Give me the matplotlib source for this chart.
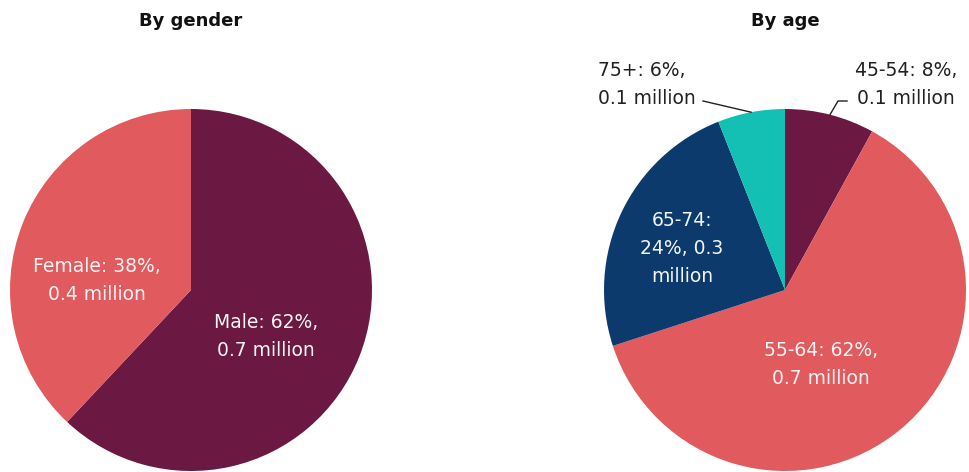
import numpy as np
import matplotlib.pyplot as plt

plt.rcParams['font.family'] = ['DejaVu Sans']

# gender split
gender_labels = ['Male', 'Female']
gender_pct = [62, 38]
gender_mil = [0.7, 0.4]
gender_colors = ['#6b1942', '#e05a5e']

# age split
age_labels = ['45-54', '55-64', '65-74', '75+']
age_pct = [8, 62, 24, 6]
age_mil = [0.1, 0.7, 0.3, 0.1]
age_colors = ['#6b1942', '#e05a5e', '#0c3a6d', '#13c0b3']

W, H = 969, 472
fig = plt.figure(figsize=(W / 100, H / 100), dpi=100)
fig.patch.set_facecolor('white')

R = 181
def pie_axes(cx, cy):
    return fig.add_axes([(cx - R) / W, (H - cy - R) / H, 2 * R / W, 2 * R / H])

def to_data(cx, cy, px, py):
    return (px - cx) / R, (cy - py) / R

inner = dict(color='#f4f4f4', fontsize=13.5, ha='center', va='center', linespacing=1.6)
outer = dict(color='#222222', fontsize=13.5, va='center', linespacing=1.6)

# left pie
cx1, cy1 = 191, 290
ax1 = pie_axes(cx1, cy1)
ax1.pie(gender_pct, colors=gender_colors, startangle=90, counterclock=False,
        radius=1, wedgeprops=dict(linewidth=0))
ax1.set_xlim(-1, 1); ax1.set_ylim(-1, 1); ax1.set_aspect('equal'); ax1.axis('off')
pos1 = [(266, 336), (97, 281)]
for lab, p, m, (px, py) in zip(gender_labels, gender_pct, gender_mil, pos1):
    x, y = to_data(cx1, cy1, px, py)
    ax1.text(x, y, f'{lab}: {p}%,\n{m} million', **inner)
fig.text(cx1 / W, 1 - 21 / H, 'By gender', ha='center', va='center',
         fontsize=13, fontweight='bold', color='#111111')

# right pie
cx2, cy2 = 785, 290
ax2 = pie_axes(cx2, cy2)
ax2.pie(age_pct, colors=age_colors, startangle=90, counterclock=False,
        radius=1, wedgeprops=dict(linewidth=0))
ax2.set_xlim(-1, 1); ax2.set_ylim(-1, 1); ax2.set_aspect('equal'); ax2.axis('off')
fig.text(cx2 / W, 1 - 21 / H, 'By age', ha='center', va='center',
         fontsize=13, fontweight='bold', color='#111111')

x, y = to_data(cx2, cy2, 821, 365)
ax2.text(x, y, f'{age_labels[1]}: {age_pct[1]}%,\n{age_mil[1]} million', **inner)
x, y = to_data(cx2, cy2, 682, 248)
ax2.text(x, y, f'{age_labels[2]}:\n{age_pct[2]}%, {age_mil[2]}\nmillion', **inner)

# outside labels with leader lines to the wedge edge
cum = np.cumsum(age_pct)
mids = (cum - np.array(age_pct) / 2) / 100.0
edge = [(np.sin(2 * np.pi * m), np.cos(2 * np.pi * m)) for m in mids]

x, y = to_data(cx2, cy2, 598, 85)
ax2.text(x, y, f'{age_labels[3]}: {age_pct[3]}%,\n{age_mil[3]} million',
         ha='left', clip_on=False, **outer)
lx, ly = to_data(cx2, cy2, 703, 101)
ax2.plot([lx, edge[3][0]], [ly, edge[3][1]], color='#222222', lw=1, clip_on=False)

x, y = to_data(cx2, cy2, 906, 85)
ax2.text(x, y, f'{age_labels[0]}: {age_pct[0]}%,\n{age_mil[0]} million',
         ha='center', clip_on=False, **outer)
ax_, ay_ = to_data(cx2, cy2, 847, 101)
bx_, by_ = to_data(cx2, cy2, 838, 101)
ax2.plot([ax_, bx_, edge[0][0]], [ay_, by_, edge[0][1]], color='#222222', lw=1, clip_on=False)

fig.savefig('out.png', dpi=100, facecolor='white')
